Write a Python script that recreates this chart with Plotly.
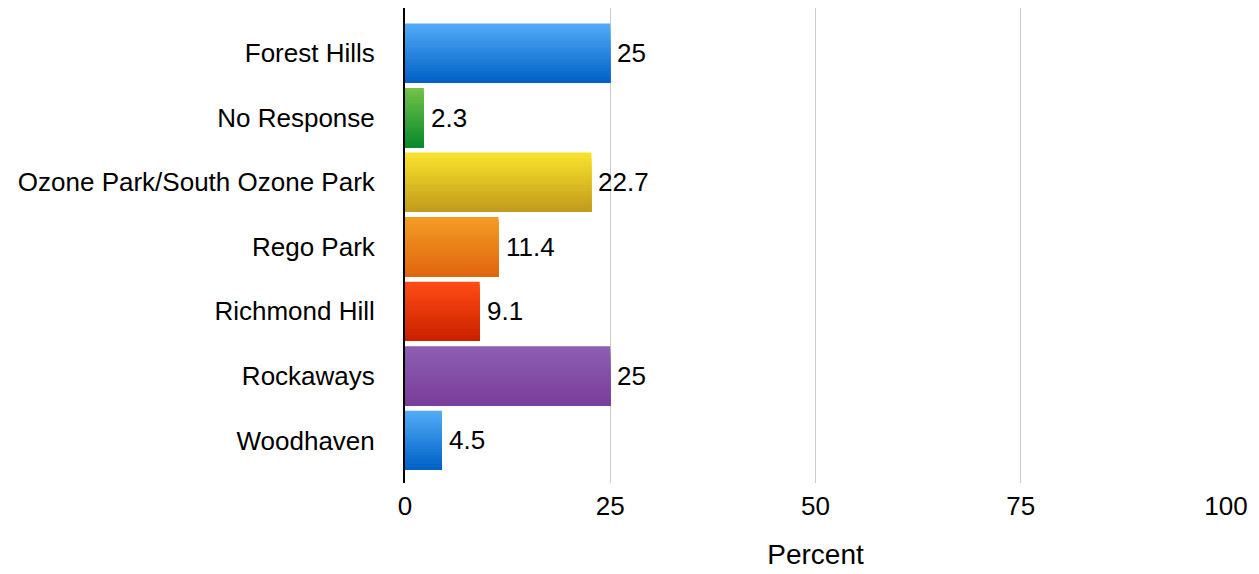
import plotly.graph_objects as go

categories = ["Forest Hills", "No Response", "Ozone Park/South Ozone Park",
              "Rego Park", "Richmond Hill", "Rockaways", "Woodhaven"]
values = [25, 2.3, 22.7, 11.4, 9.1, 25, 4.5]
value_labels = ["25", "2.3", "22.7", "11.4", "9.1", "25", "4.5"]
top_colors = ["#52AAF7", "#70C248", "#F8E22C", "#F39C22", "#FF4C14", "#8C5EB2", "#52AAF7"]
bottom_colors = ["#0062C6", "#0A8A2C", "#C29C1C", "#E0660E", "#CA2000", "#7A3E9A", "#0062C6"]
x_ticks = [0, 25, 50, 75, 100]

BAR_W = 0.92
N = 20
FONT = "Liberation Sans, Arial, Helvetica, sans-serif"


def hex2rgb(h):
    h = h.lstrip("#")
    return tuple(int(h[i:i + 2], 16) for i in (0, 2, 4))


def mix(a, b, t):
    ra, rb = hex2rgb(a), hex2rgb(b)
    return "rgb(%d,%d,%d)" % tuple(round(ra[i] + (rb[i] - ra[i]) * t) for i in range(3))


fig = go.Figure()
sw = BAR_W / N
for k in range(N):
    t = k / (N - 1)
    fig.add_trace(go.Bar(
        y=categories, x=values, orientation="h",
        width=BAR_W - k * sw, offset=-BAR_W / 2 + k * sw,
        marker=dict(color=[mix(a, b, t) for a, b in zip(top_colors, bottom_colors)],
                    line=dict(width=0)),
        hoverinfo="skip", showlegend=False,
    ))

for cat, v, lab in zip(categories, values, value_labels):
    fig.add_annotation(x=v, y=cat, text=lab, showarrow=False, xanchor="left",
                       yanchor="middle", xshift=5,
                       font=dict(family=FONT, size=26, color="black"))

fig.update_layout(
    barmode="overlay",
    width=1259, height=574,
    margin=dict(l=397, r=41, t=0, b=99),
    plot_bgcolor="white", paper_bgcolor="white",
    font=dict(family=FONT, size=26, color="black"),
    xaxis=dict(range=[0, 100], tickvals=x_ticks, showgrid=True, gridcolor="#CCCCCC",
               gridwidth=1, zeroline=False, showline=False, ticks="",
               ticklabelstandoff=5,
               title=dict(text="Percent", font=dict(size=28), standoff=24)),
    yaxis=dict(categoryorder="array", categoryarray=categories,
               range=[6.66, -0.7], showgrid=False, zeroline=False,
               showline=True, linecolor="black", linewidth=2, ticks="",
               ticklabelstandoff=23),
)

fig.write_html("out.html")
